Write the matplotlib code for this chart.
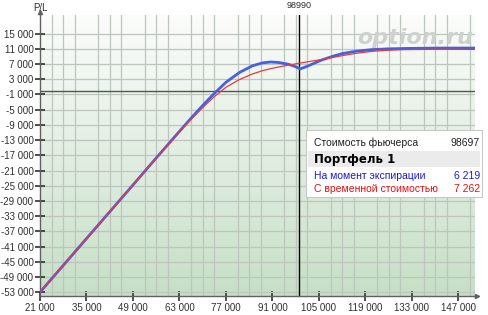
import matplotlib.pyplot as plt
import matplotlib.ticker as mticker
from matplotlib.colors import LinearSegmentedColormap
from matplotlib.patches import Rectangle
import numpy as np

# futures price grid
prices = [21000, 35000, 49000, 56000, 60000, 64000, 67000, 70000, 73000, 77000,
          81000, 85000, 88000, 90500, 93000, 96000, 98000, 99300, 101000, 103000,
          105500, 109000, 112000, 116000, 121000, 126000, 131000, 141000, 152000]
pl_expiry = [-53000, -38900, -24800, -17700, -13700, -9700, -6750, -3900, -1150, 2200,
             4750, 6550, 7300, 7550, 7400, 6900, 6300, 5700, 6250, 7000,
             7950, 9000, 9750, 10350, 10800, 11000, 11100, 11200, 11200]
pl_time = [-53000, -38900, -24800, -17750, -13800, -9900, -7100, -4450, -1950, 900,
           2900, 4400, 5250, 5800, 6250, 6750, 7050, 7250, 7500, 7800,
           8150, 8700, 9200, 9800, 10350, 10650, 10800, 10900, 10850]

current_price = 98990
x_ticks = list(range(21000, 147001, 14000))
y_ticks = list(range(-53000, 15001, 4000))

legend_rows = [
    ('Стоимость фьючерса', '98697', '#202020'),
    ('На момент экспирации', '6 219', '#1a1acc'),
    ('С временной стоимостью', '7 262', '#e01010'),
]
portfolio_name = 'Портфель 1'

plt.rcParams['font.family'] = ['Liberation Sans', 'DejaVu Sans']

W, H = 489, 315
fig = plt.figure(figsize=(W / 100, H / 100), dpi=100)
ax = fig.add_axes([40 / W, 19 / H, 435 / W, 281 / H])

x_lo, x_hi = 21000, 152000
y_lo, y_hi = -54000, 19900
ax.set_xlim(x_lo, x_hi)
ax.set_ylim(y_lo, y_hi)

# green gradient background
cmap = LinearSegmentedColormap.from_list('bg', ['#c6dfc6', '#e2eee2', '#fbfcfb'])
grad = np.linspace(0, 1, 256).reshape(-1, 1)
ax.imshow(grad, cmap=cmap, origin='lower', aspect='auto',
          extent=[x_lo, x_hi, y_lo, y_hi], zorder=0)

ax.set_xticks(x_ticks)
ax.set_yticks(y_ticks)
ax.xaxis.set_minor_locator(mticker.MultipleLocator(3500))
fmt = mticker.FuncFormatter(lambda v, p: '{:,}'.format(int(v)).replace(',', ' '))
ax.xaxis.set_major_formatter(fmt)
ax.yaxis.set_major_formatter(fmt)
ax.grid(which='minor', axis='x', color='#bcc6bc', lw=0.9, zorder=1)
ax.grid(which='major', axis='y', color='#bcc6bc', lw=0.9, zorder=1)
ax.tick_params(which='major', direction='inout', length=7.5, width=1.2,
               color='#303030', labelsize=7, labelcolor='#303030', pad=1)
ax.tick_params(which='minor', length=0)

for side in ('top', 'right'):
    ax.spines[side].set_visible(False)
for side in ('left', 'bottom'):
    ax.spines[side].set_color('#606060')
    ax.spines[side].set_linewidth(1.0)
ax.plot(0, 1.01, marker='^', ms=3, color='#606060', transform=ax.transAxes, clip_on=False)
ax.plot(1.005, 0, marker='>', ms=3, color='#606060', transform=ax.transAxes, clip_on=False)

ax.axhline(0, color='#4a5a4a', lw=1.0, zorder=2)
ax.axvline(current_price, color='black', lw=1.0, zorder=2)

ax.plot(prices, pl_expiry, color='#4560e0', lw=2.0, zorder=3)
ax.plot(prices, pl_time, color='#e83a3a', lw=0.9, zorder=4)

# watermark
fig.text(415 / W, 1 - 38 / H, 'option.ru', fontsize=16, fontweight='bold', style='italic',
         color='#cdd2cd', ha='center', va='center', family=['DejaVu Sans'])

fig.text(40 / W, 1 - 8 / H, 'P/L', fontsize=7, color='#303030', ha='center', va='center')
fig.text(299 / W, 1 - 6 / H, str(current_price), fontsize=6.5, color='#303030',
         ha='center', va='center')

# info box
fig.patches.append(Rectangle((306 / W, 1 - 197 / H), 176 / W, 67 / H, transform=fig.transFigure,
                             facecolor='white', edgecolor='#c8c8c8', lw=0.8, zorder=5))
fig.patches.append(Rectangle((308 / W, 1 - 167 / H), 172 / W, 16 / H, transform=fig.transFigure,
                             facecolor='#ebebeb', edgecolor='none', zorder=6))
row_y = [143, 176, 189]
for (label, value, color), y in zip(legend_rows, row_y):
    fig.text(314 / W, 1 - y / H, label, fontsize=7.5, color=color, va='center', zorder=7)
    fig.text(480 / W, 1 - y / H, value, fontsize=7.5, color=color, va='center', ha='right', zorder=7)
fig.text(314 / W, 1 - 160 / H, portfolio_name, fontsize=8.5, fontweight='bold', color='black',
         va='center', zorder=7, family=['DejaVu Sans'])

fig.savefig('out.png', dpi=100)
